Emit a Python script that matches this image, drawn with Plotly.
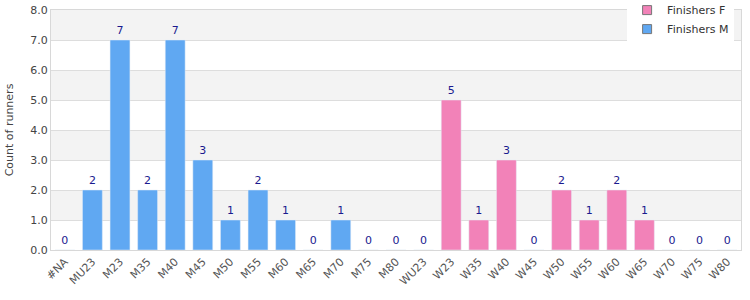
import plotly.graph_objects as go

categories = ["#NA", "MU23", "M23", "M35", "M40", "M45", "M50", "M55", "M60", "M65",
              "M70", "M75", "M80", "WU23", "W23", "W35", "W40", "W45", "W50", "W55",
              "W60", "W65", "W70", "W75", "W80"]
finishers_m = [0, 2, 7, 2, 7, 3, 1, 2, 1, 0, 1, 0, 0, 0,
               None, None, None, None, None, None, None, None, None, None, None]
finishers_f = [None, None, None, None, None, None, None, None, None, None, None, None, None, None,
               5, 1, 3, 0, 2, 1, 2, 1, 0, 0, 0]

col_m = "#60a8f2"
col_f = "#f282b8"
txt_col = "#1a1a8f"

fig = go.Figure()
for vals, col in ((finishers_m, col_m), (finishers_f, col_f)):
    fig.add_trace(go.Bar(x=categories, y=vals, marker_color=col, showlegend=False,
                         hoverinfo="skip",
                         text=["" if v is None else str(v) for v in vals],
                         textposition="outside", cliponaxis=False,
                         textfont=dict(color=txt_col, size=11, family="DejaVu Sans")))
# legend entries
for name, col in (("Finishers F", col_f), ("Finishers M", col_m)):
    fig.add_trace(go.Scatter(x=[None], y=[None], name=name, mode="markers",
                             marker=dict(symbol="square", size=9, color=col,
                                         line=dict(color="#777777", width=1))))

shapes = []
for lo in range(1, 8, 2):
    shapes.append(dict(type="rect", xref="paper", x0=0, x1=1, yref="y", y0=lo, y1=lo + 1,
                       fillcolor="#f3f3f3", line=dict(width=0), layer="below"))
fig.update_layout(
    width=750, height=300,
    margin=dict(l=51, r=9, t=10, b=50, autoexpand=False),
    barmode="overlay", bargap=0.28,
    plot_bgcolor="white", paper_bgcolor="white",
    font=dict(family="DejaVu Sans", size=11, color="#444444"),
    shapes=shapes,
    legend=dict(x=0.99, xanchor="right", y=1.06, yanchor="top", bgcolor="white",
                font=dict(size=11, color="#333333"), traceorder="normal",
                itemwidth=30, tracegroupgap=0),
    xaxis=dict(type="category", categoryorder="array", categoryarray=categories,
               range=[-0.5, len(categories) - 0.5],
               tickangle=-45, showline=True, linecolor="#d8d8d8", mirror=True,
               tickfont=dict(size=11, color="#555555"), ticks="", automargin=False),
    yaxis=dict(range=[0, 8], dtick=1, tickformat=".1f", showgrid=True, gridcolor="#dddddd",
               showline=True, linecolor="#d8d8d8", mirror=True, zeroline=False,
               automargin=False,
               title=dict(text="Count of runners", font=dict(size=11, color="#444444"), standoff=14),
               tickfont=dict(size=11, color="#444444")),
)
fig.write_html("out.html")
